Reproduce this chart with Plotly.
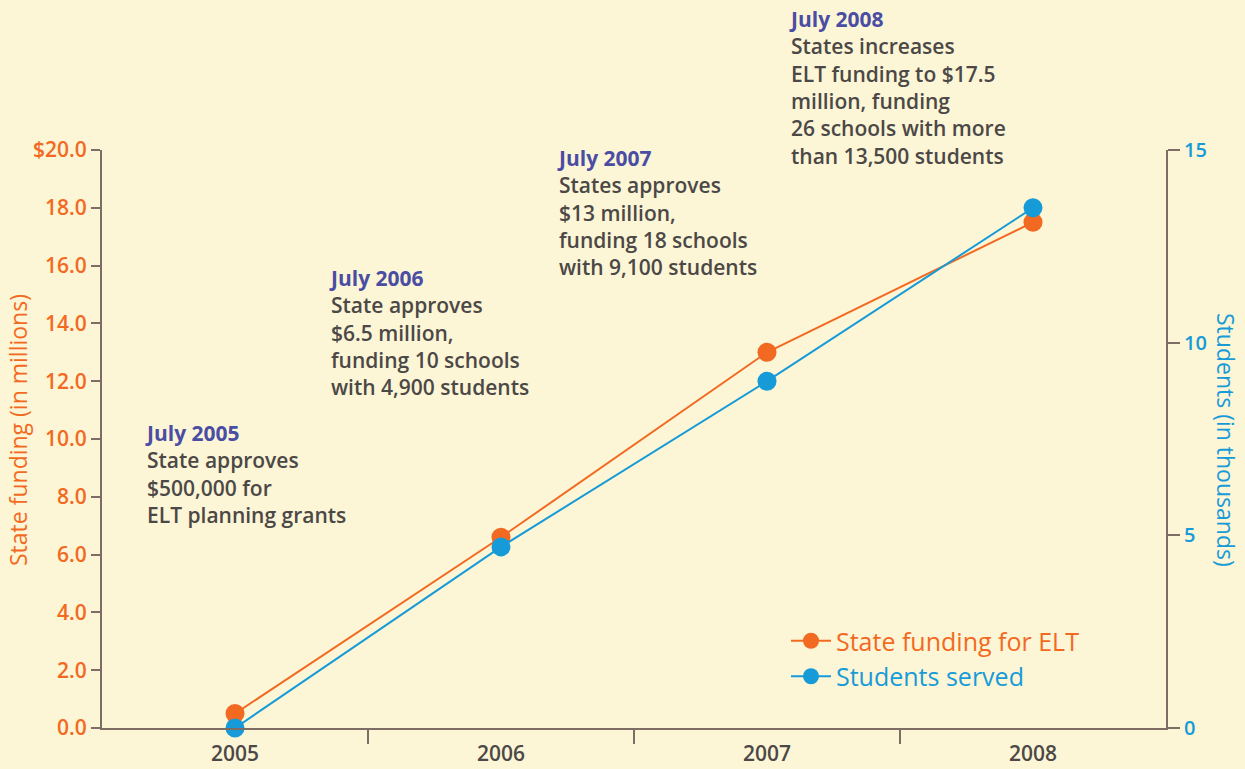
import plotly.graph_objects as go

years = [2005, 2006, 2007, 2008]
funding_millions = [0.5, 6.6, 13.0, 17.5]
students_thousands = [0.0, 4.7, 9.0, 13.5]

left_tickvals = [0, 2, 4, 6, 8, 10, 12, 14, 16, 18, 20]
left_ticktext = ["0.0", "2.0", "4.0", "6.0", "8.0", "10.0", "12.0", "14.0", "16.0", "18.0", "$20.0"]
right_tickvals = [0, 5, 10, 15]
right_ticktext = ["0", "5", "10", "15"]
year_labels = ["2005", "2006", "2007", "2008"]

notes = [
    ("July 2005", ["State approves", "$500,000 for", "ELT planning grants"]),
    ("July 2006", ["State approves", "$6.5 million,", "funding 10 schools", "with 4,900 students"]),
    ("July 2007", ["States approves", "$13 million,", "funding 18 schools", "with 9,100 students"]),
    ("July 2008", ["States increases", "ELT funding to $17.5", "million, funding", "26 schools with more", "than 13,500 students"]),
]

ORANGE = "#F26A21"
BLUE = "#169BD8"
AXIS = "#7D6D65"
BG = "#FCF5D6"
TITLE = "#4A4DA3"
BODY = "#4B4846"
FONT = "Open Sans"

fig = go.Figure()
fig.add_trace(go.Scatter(
    x=years, y=funding_millions, mode="lines+markers",
    name=f"<span style='color:{ORANGE}'>State funding for ELT</span>",
    line=dict(color=ORANGE, width=2), marker=dict(color=ORANGE, size=19),
    cliponaxis=False, yaxis="y"))
fig.add_trace(go.Scatter(
    x=years, y=students_thousands, mode="lines+markers",
    name=f"<span style='color:{BLUE}'>Students served</span>",
    line=dict(color=BLUE, width=2), marker=dict(color=BLUE, size=19),
    cliponaxis=False, yaxis="y2"))

L, R, T, B = 102, 79, 150, 41
W, H = 1245, 769
pw, ph = W - L - R, H - T - B
def px(x): return (x - L) / pw
def py(y): return (H - B - y) / ph

# (left x, top y) in pixels for each note block
block_pos = [(143, 417), (327, 262), (555, 142), (787, 3)]
for (title, lines), (bx, by) in zip(notes, block_pos):
    txt = f"<b><span style='color:{TITLE}'>{title}</span></b><br>" + "<br>".join(lines)
    fig.add_annotation(text=txt, xref="paper", yref="paper", x=px(bx), y=py(by),
                       xanchor="left", yanchor="top", align="left", showarrow=False,
                       font=dict(family=FONT, size=21, color=BODY, weight=600))

fig.add_annotation(text="State funding (in millions)", xref="paper", yref="paper",
                   x=px(18), y=py(430), xanchor="center", yanchor="middle",
                   textangle=-90, showarrow=False,
                   font=dict(family=FONT, size=23, color=ORANGE, weight=500))
fig.add_annotation(text="Students (in thousands)", xref="paper", yref="paper",
                   x=px(1226), y=py(440), xanchor="center", yanchor="middle",
                   textangle=90, showarrow=False,
                   font=dict(family=FONT, size=23, color=BLUE, weight=500))

fig.update_layout(
    width=W, height=H,
    margin=dict(l=L, r=R, t=T, b=B, autoexpand=False),
    paper_bgcolor=BG, plot_bgcolor=BG,
    showlegend=True,
    legend=dict(x=px(786), y=py(618), xanchor="left", yanchor="top",
                bgcolor="rgba(0,0,0,0)", font=dict(family=FONT, size=25, weight=500),
                tracegroupgap=0, itemwidth=40),
    xaxis=dict(range=[2004.5, 2008.5], tickvals=years, ticktext=year_labels,
               ticks="", showgrid=False, zeroline=False,
               showline=True, linecolor=AXIS, linewidth=2, ticklabelstandoff=6,
               tickfont=dict(family=FONT, size=21, color=BODY, weight=600),
               minor=dict(tickvals=[2005.5, 2006.5, 2007.5], ticks="outside",
                          ticklen=14, tickwidth=1.5, tickcolor=AXIS, showgrid=False)),
    yaxis=dict(range=[0, 20], tickvals=left_tickvals, ticktext=left_ticktext,
               ticks="outside", ticklen=9, tickwidth=1.5, tickcolor=AXIS,
               showgrid=False, zeroline=False, showline=True, linecolor=AXIS, linewidth=2,
               tickfont=dict(family=FONT, size=21, color=ORANGE, weight=600)),
    yaxis2=dict(range=[0, 15], overlaying="y", side="right", anchor="x",
                tickvals=right_tickvals, ticktext=right_ticktext,
                ticks="outside", ticklen=12, tickwidth=1.5, tickcolor=AXIS,
                showgrid=False, zeroline=False, showline=True, linecolor=AXIS, linewidth=2,
                tickfont=dict(family=FONT, size=20, color=BLUE, weight=600)),
)

fig.write_html("out.html")
